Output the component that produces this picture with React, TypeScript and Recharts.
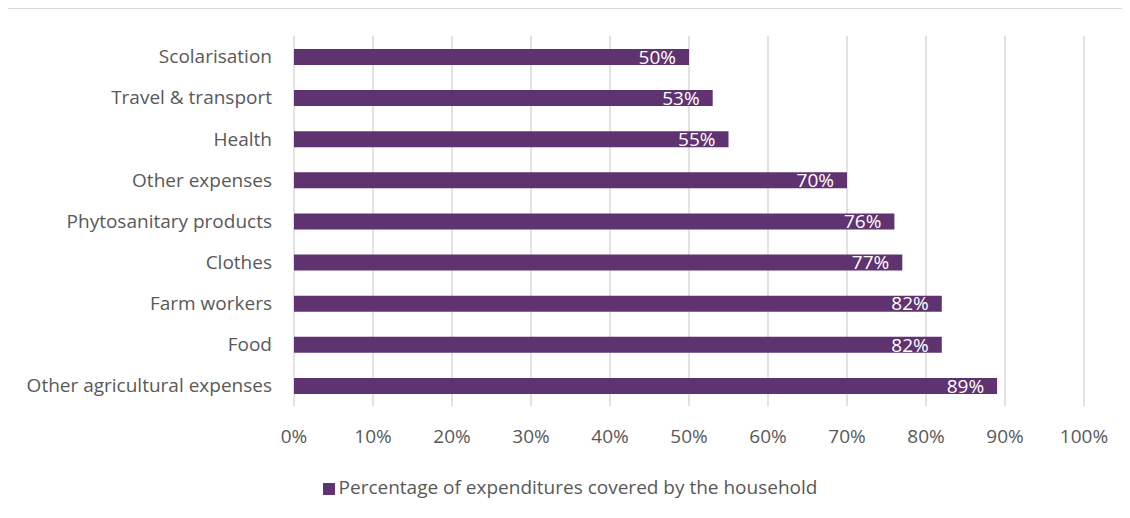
import { BarChart, Bar, XAxis, YAxis, CartesianGrid, Legend, LabelList } from "recharts";

const categories = [
  "Scolarisation",
  "Travel & transport",
  "Health",
  "Other expenses",
  "Phytosanitary products",
  "Clothes",
  "Farm workers",
  "Food",
  "Other agricultural expenses",
];
const covered = [50, 53, 55, 70, 76, 77, 82, 82, 89];
const pctTicks = [0, 10, 20, 30, 40, 50, 60, 70, 80, 90, 100];

const SERIES = "Percentage of expenditures covered by the household";
const PURPLE = "#5F3270";
const TEXT = "#595959";
const FONT = "'Open Sans', sans-serif";
const FS = 19;

const data = categories.map((name, i) => ({ name, value: covered[i] }));

export default function App() {
  return (
    <div
      style={{
        marginLeft: -1,
        width: 1123,
        height: 510,
        boxSizing: "border-box",
        borderTop: "1px solid #d9d9d9",
        borderLeft: "1px solid #d9d9d9",
        background: "#fff",
        fontFamily: FONT,
      }}
    >
      <BarChart
        width={1122}
        height={509}
        data={data}
        layout="vertical"
        margin={{ top: 27, right: 46, left: 0, bottom: 36 }}
        barCategoryGap={0}
      >
        <CartesianGrid horizontal={false} stroke="#d9d9d9" strokeWidth={1.5} />
        <XAxis
          type="number"
          domain={[0, 100]}
          ticks={pctTicks}
          tickFormatter={(v) => `${v}%`}
          axisLine={false}
          tickLine={false}
          tickSize={0}
          tickMargin={24}
          height={50}
          interval={0}
          tick={{ fontSize: FS, fill: TEXT, fontFamily: FONT }}
        />
        <YAxis
          type="category"
          dataKey="name"
          width={286}
          axisLine={false}
          tickLine={false}
          tickSize={0}
          tickMargin={22}
          interval={0}
          tick={{ fontSize: FS, fill: TEXT, fontFamily: FONT }}
        />
        <Legend
          verticalAlign="bottom"
          iconType="square"
          iconSize={12}
          wrapperStyle={{ top: 465, left: 29, fontFamily: FONT, fontSize: FS }}
          formatter={(v) => <span style={{ color: TEXT }}>{v}</span>}
        />
        <Bar dataKey="value" name={SERIES} fill={PURPLE} barSize={16} isAnimationActive={false}>
          <LabelList
            dataKey="value"
            position="insideRight"
            offset={13}
            formatter={(v: number) => `${v}%`}
            style={{ fill: "#fff", fontSize: FS, fontFamily: FONT }}
          />
        </Bar>
      </BarChart>
    </div>
  );
}
